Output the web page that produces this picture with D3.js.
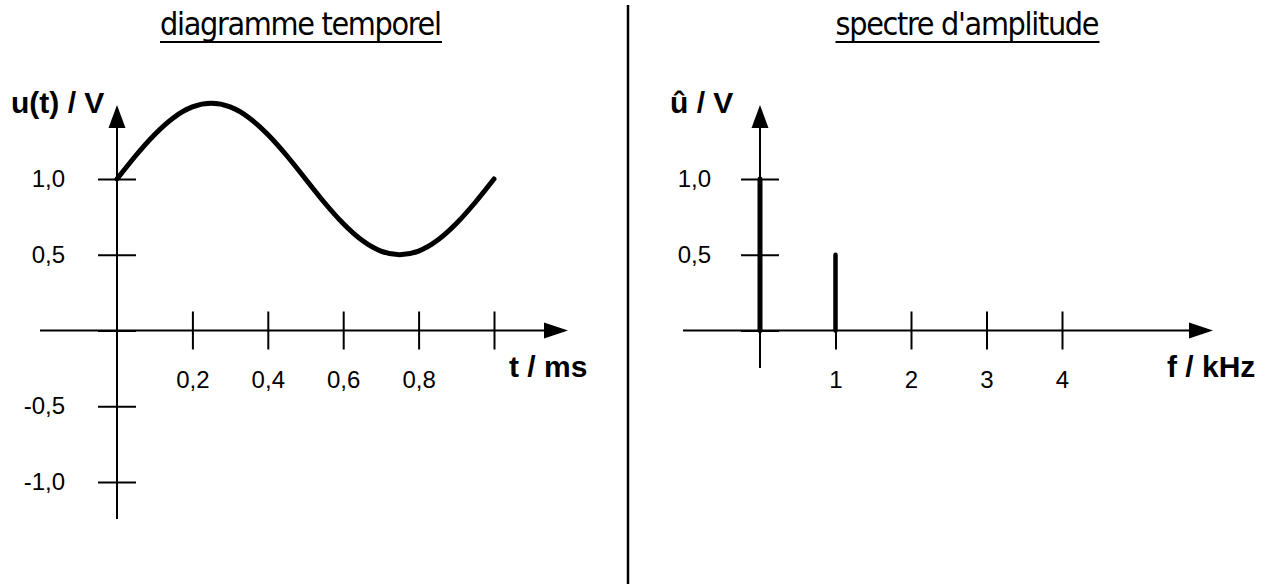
<!DOCTYPE html>
<html>
<head>
<meta charset="utf-8">
<script src="https://cdn.jsdelivr.net/npm/d3@7"></script>
<style>
  html, body { margin: 0; padding: 0; background: #fff; }
  svg { display: block; }
</style>
</head>
<body>
<svg id="chart" width="1272" height="584"></svg>
<script>
// ---- data ----
const timeMs = [0, 0.05, 0.10, 0.15, 0.20, 0.25, 0.30, 0.35, 0.40, 0.45, 0.50,
                0.55, 0.60, 0.65, 0.70, 0.75, 0.80, 0.85, 0.90, 0.95, 1.00];
const voltage = [1.000, 1.155, 1.294, 1.405, 1.476, 1.500, 1.476, 1.405, 1.294, 1.155, 1.000,
                 0.845, 0.706, 0.595, 0.524, 0.500, 0.524, 0.595, 0.706, 0.845, 1.000];
const freqKHz = [0, 1];
const amplitude = [1.0, 0.5];

const timeTicks = [0.2, 0.4, 0.6, 0.8, 1.0];
const timeTickLabels = ["0,2", "0,4", "0,6", "0,8", ""];
const voltTicksLeft = [-1.0, -0.5, 0, 0.5, 1.0];
const voltTickLabelsLeft = ["-1,0", "-0,5", "", "0,5", "1,0"];
const freqTicks = [1, 2, 3, 4];
const freqTickLabels = ["1", "2", "3", "4"];
const voltTicksRight = [0, 0.5, 1.0];
const voltTickLabelsRight = ["", "0,5", "1,0"];

const titles = ["diagramme temporel", "spectre d'amplitude"];
const axisNames = ["u(t) / V", "t / ms", "û / V", "f / kHz"];

// ---- drawing ----
const svg = d3.select("#chart");
const numFont = "'Liberation Sans', Arial, sans-serif";
const titleFont = "'Liberation Sans Narrow', 'DejaVu Sans Condensed', sans-serif";

// scales
const xT = d3.scaleLinear().domain([0, 1]).range([117, 494]);
const yV = d3.scaleLinear().domain([-1, 1]).range([482, 179]);
const xF = d3.scaleLinear().domain([0, 4]).range([760, 1062]);

function arrowRight(x1, x2, y) {
  svg.append("line").attr("x1", x1).attr("x2", x2 - 20).attr("y1", y).attr("y2", y)
    .attr("stroke", "#000").attr("stroke-width", 2);
  svg.append("path").attr("d", `M${x2},${y} L${x2 - 24},${y - 8} L${x2 - 24},${y + 8} Z`).attr("fill", "#000");
}
function arrowUp(x, y1, y2) {
  svg.append("line").attr("x1", x).attr("x2", x).attr("y1", y1).attr("y2", y2 + 20)
    .attr("stroke", "#000").attr("stroke-width", 2);
  svg.append("path").attr("d", `M${x},${y2} L${x - 8.5},${y2 + 23} L${x + 8.5},${y2 + 23} Z`).attr("fill", "#000");
}

function styleAxis(g) {
  g.select(".domain").remove();
  g.selectAll(".tick line").attr("stroke", "#000").attr("stroke-width", 2);
  g.selectAll(".tick text").attr("fill", "#000").attr("font-family", numFont).attr("font-size", 24);
}

// ---------- left panel ----------
const y0 = yV(0);
svg.append("g").attr("transform", `translate(0,${y0})`)
  .call(d3.axisBottom(xT).tickValues(timeTicks).tickSize(19).tickPadding(21)
    .tickFormat((d, i) => timeTickLabels[i]))
  .call(styleAxis);
svg.append("g").attr("transform", `translate(0,${y0})`)
  .call(d3.axisTop(xT).tickValues(timeTicks).tickSize(19).tickFormat(""))
  .call(styleAxis);
svg.append("g").attr("transform", `translate(${xT(0)},0)`)
  .call(d3.axisLeft(yV).tickValues(voltTicksLeft).tickSize(19).tickPadding(33)
    .tickFormat((d, i) => voltTickLabelsLeft[i]))
  .call(styleAxis);
svg.append("g").attr("transform", `translate(${xT(0)},0)`)
  .call(d3.axisRight(yV).tickValues(voltTicksLeft).tickSize(19).tickFormat(""))
  .call(styleAxis);

arrowRight(40, 568, y0);
arrowUp(xT(0), 519, 105);

// curve
const line = d3.line()
  .x((d, i) => xT(timeMs[i]))
  .y(d => yV(d))
  .curve(d3.curveNatural);
svg.append("path").datum(voltage).attr("d", line)
  .attr("fill", "none").attr("stroke", "#000").attr("stroke-width", 5)
  .attr("stroke-linecap", "round").attr("stroke-linejoin", "round");

// ---------- right panel ----------
svg.append("g").attr("transform", `translate(0,${y0})`)
  .call(d3.axisBottom(xF).tickValues(freqTicks).tickSize(19).tickPadding(21)
    .tickFormat((d, i) => freqTickLabels[i]))
  .call(styleAxis);
svg.append("g").attr("transform", `translate(0,${y0})`)
  .call(d3.axisTop(xF).tickValues(freqTicks).tickSize(19).tickFormat(""))
  .call(styleAxis);
svg.append("g").attr("transform", `translate(${xF(0)},0)`)
  .call(d3.axisLeft(yV).tickValues(voltTicksRight).tickSize(19).tickPadding(30)
    .tickFormat((d, i) => voltTickLabelsRight[i]))
  .call(styleAxis);
svg.append("g").attr("transform", `translate(${xF(0)},0)`)
  .call(d3.axisRight(yV).tickValues(voltTicksRight).tickSize(19).tickFormat(""))
  .call(styleAxis);

arrowRight(683, 1213, y0);
arrowUp(xF(0), 368, 105);

// spectral lines
svg.selectAll("line.spec").data(amplitude).enter().append("line")
  .attr("class", "spec")
  .attr("x1", (d, i) => xF(freqKHz[i])).attr("x2", (d, i) => xF(freqKHz[i]))
  .attr("y1", yV(0)).attr("y2", d => yV(d))
  .attr("stroke", "#000").attr("stroke-width", (d, i) => i === 0 ? 5 : 4.5)
  .attr("stroke-linecap", "round");

// ---------- divider ----------
svg.append("line").attr("x1", 628).attr("x2", 628).attr("y1", 5).attr("y2", 584)
  .attr("stroke", "#000").attr("stroke-width", 2.5);

// ---------- titles ----------
const titleSpecs = [{cx: 301, w: 282}, {cx: 967.5, w: 264}];
titles.forEach((t, i) => {
  const s = titleSpecs[i];
  svg.append("text").attr("x", s.cx).attr("y", 35).attr("text-anchor", "middle")
    .attr("font-family", titleFont).attr("font-size", 32).attr("fill", "#000")
    .attr("textLength", s.w).attr("lengthAdjust", "spacing")
    .text(t);
  svg.append("line").attr("x1", s.cx - s.w / 2).attr("x2", s.cx + s.w / 2)
    .attr("y1", 42).attr("y2", 42).attr("stroke", "#000").attr("stroke-width", 2);
});

// ---------- axis names ----------
const nameSpecs = [
  {x: 11, y: 113},
  {x: 509, y: 377},
  {x: 670, y: 113},
  {x: 1167, y: 377}
];
axisNames.forEach((n, i) => {
  const s = nameSpecs[i];
  svg.append("text").attr("x", s.x).attr("y", s.y)
    .attr("font-family", numFont).attr("font-weight", "bold").attr("font-size", 30)
    .attr("fill", "#000")
    .text(n);
});
</script>
</body>
</html>
